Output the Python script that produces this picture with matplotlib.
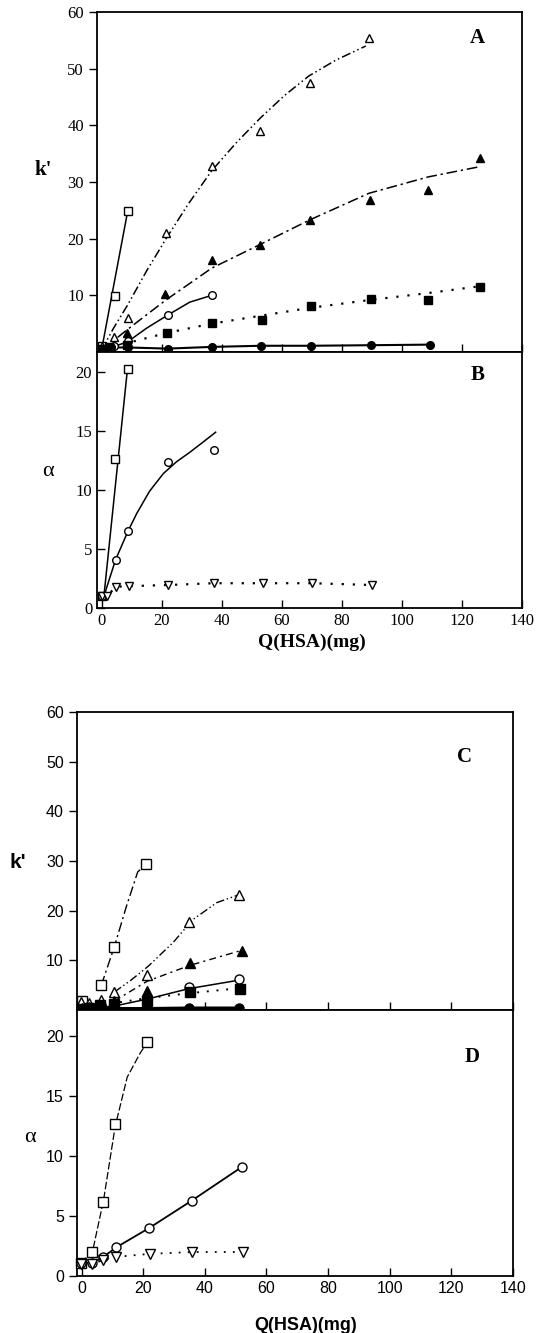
import numpy as np
import matplotlib.pyplot as plt

# ---------------- Panel A : k' ----------------
a_osq_x = [0, 4.4, 8.7]
a_osq_y = [1.0, 9.8, 24.8]
a_osq_fx = [0, 8.7]
a_osq_fy = [0.3, 24.8]

a_otri_x = [0, 4, 8.7, 21.5, 36.7, 52.9, 69.3, 89]
a_otri_y = [1.0, 2.7, 6.0, 21.0, 32.8, 39.0, 47.4, 55.4]
a_otri_fx = [0, 4, 8.7, 15, 21.5, 29, 36.7, 45, 52.9, 61, 69, 78, 88]
a_otri_fy = [0.3, 4.2, 8.3, 14.3, 20.0, 26.2, 32.0, 37.0, 41.3, 45.3, 48.7, 51.5, 54.0]

a_ftri_x = [0, 3, 8.5, 21.3, 36.7, 52.9, 69.3, 89.3, 108.8, 125.9]
a_ftri_y = [0.5, 0.9, 3.3, 10.2, 16.2, 18.9, 23.3, 26.9, 28.5, 34.2]
a_ftri_fx = [0, 8.7, 21.5, 36.7, 52.9, 69.3, 89, 108.8, 125.9]
a_ftri_fy = [0.3, 4.0, 9.2, 14.8, 19.0, 23.3, 28.0, 30.9, 32.7]

a_ocir_x = [0, 4, 8.7, 22, 36.7]
a_ocir_y = [0.5, 1.0, 2.0, 6.6, 10.1]
a_ocir_fx = [0, 8.7, 15, 22, 29.4, 36.7]
a_ocir_fy = [0.2, 1.8, 4.2, 6.5, 8.8, 10.0]

a_fsq_x = [0, 2.5, 8.5, 21.9, 36.7, 53.3, 69.6, 89.6, 108.8, 125.9]
a_fsq_y = [0.5, 0.9, 1.2, 3.3, 5.1, 5.6, 8.1, 9.3, 9.2, 11.5]
a_fsq_fx = [0, 8.7, 22, 36.7, 53, 69.6, 89.6, 108.8, 125.9]
a_fsq_fy = [0.3, 1.6, 3.4, 5.0, 6.4, 7.8, 9.2, 10.4, 11.6]

a_fcir_x = [0, 3, 8.7, 22, 36.7, 53.1, 69.6, 89.7, 109.4]
a_fcir_y = [0.3, 0.8, 0.8, 0.6, 0.9, 1.1, 1.1, 1.2, 1.3]

# ---------------- Panel B : alpha ----------------
b_osq_x = [0, 4.4, 8.7]
b_osq_y = [1.0, 12.6, 20.3]
b_osq_fx = [0.8, 8.7]
b_osq_fy = [1.0, 20.4]

b_ocir_x = [0, 4.7, 8.8, 22, 37.3]
b_ocir_y = [1.0, 4.1, 6.5, 12.4, 13.4]
b_ocir_fx = [0.8, 4.7, 8.8, 11.7, 16, 20.6, 25, 29.4, 34, 38]
b_ocir_fy = [1.0, 4.1, 6.5, 8.0, 9.9, 11.4, 12.4, 13.2, 14.1, 14.9]

b_dtri_x = [0, 1.9, 4.7, 9, 22.2, 37.3, 53.8, 70.2, 89.9]
b_dtri_y = [1.0, 1.0, 1.8, 1.85, 1.95, 2.1, 2.1, 2.1, 1.95]

# ---------------- Panel C : k' ----------------
c_osq_x = [0, 6.4, 10.6, 21]
c_osq_y = [1.8, 5.0, 12.6, 29.4]
c_osq_fx = [6.4, 10.6, 14.5, 18.2, 21]
c_osq_fy = [5.0, 12.7, 20.8, 27.8, 29.4]

c_otri_x = [-0.3, 2.3, 6.4, 10.6, 21.3, 34.8, 51]
c_otri_y = [1.6, 1.4, 2.0, 3.6, 7.0, 17.8, 23.2]
c_otri_fx = [10.6, 16, 21.6, 29.7, 36.1, 43.8, 51]
c_otri_fy = [3.6, 6.0, 8.8, 13.6, 18.2, 21.6, 23.2]

c_ftri_x = [0, 2.3, 6.4, 10.6, 21.3, 35.2, 51.9]
c_ftri_y = [0.5, 0.6, 1.0, 1.8, 3.8, 9.4, 11.8]
c_ftri_fx = [10.6, 21.3, 35.2, 51.9]
c_ftri_fy = [1.8, 5.8, 9.0, 12.0]

c_ocir_x = [0, 2.3, 6.4, 10.6, 21.3, 34.8, 51]
c_ocir_y = [0.3, 0.4, 0.6, 1.0, 2.0, 4.6, 6.2]
c_ocir_fx = [0, 10.6, 21.3, 34.8, 51]
c_ocir_fy = [0.2, 0.8, 2.2, 4.3, 6.0]

c_fsq_x = [0, 2.3, 6.1, 10.6, 21.3, 35.2, 51.5]
c_fsq_y = [0.3, 0.5, 1.0, 1.2, 1.8, 3.6, 4.2]
c_fsq_fx = [0, 10.6, 21.3, 35.2, 51.5]
c_fsq_fy = [0.3, 1.4, 2.4, 3.4, 4.4]

c_fcir_x = [0, 2.3, 6.4, 10.6, 21.3, 34.8, 51]
c_fcir_y = [0.3, 0.3, 0.3, 0.3, 0.3, 0.4, 0.4]

# ---------------- Panel D : alpha ----------------
d_osq_x = [-0.3, 3.5, 7.1, 10.9, 21.3]
d_osq_y = [1.1, 2.0, 6.2, 12.7, 19.5]
d_osq_fx = [-0.3, 3.5, 7.1, 10.9, 14.8, 19, 21.3]
d_osq_fy = [1.1, 2.0, 6.3, 12.5, 16.6, 18.6, 19.5]

d_ocir_x = [-0.3, 3.5, 7.1, 11.3, 21.9, 35.8, 52]
d_ocir_y = [1.1, 1.1, 1.6, 2.4, 4.0, 6.3, 9.1]

d_dtri_x = [-0.3, 3.5, 7.1, 11.3, 22.3, 35.8, 52.3]
d_dtri_y = [1.0, 1.0, 1.35, 1.6, 1.85, 2.0, 2.0]

xticks = [0, 20, 40, 60, 80, 100, 120, 140]

# line styles
DDOT = (0, (6, 2, 1, 2, 1, 2))
DASHDOT = (0, (7, 2.5, 1.5, 2.5))
DOT = (0, (1, 4))
SERIF = 'Liberation Serif'
SANS = 'Liberation Sans'


def pts(ax, x, y, marker, filled, ms=5.5):
    ax.plot(x, y, linestyle='none', marker=marker, ms=ms,
            mfc='black' if filled else 'white', mec='black', mew=1.0,
            zorder=4, clip_on=False)


def line(ax, x, y, ls, lw=1.1):
    ax.plot(x, y, color='black', linestyle=ls, lw=lw, zorder=3)


fig = plt.figure(figsize=(5.4, 13.33), dpi=100)
W, H = 540, 1333


def axes_px(l, t, r, b):
    return fig.add_axes([l / W, 1 - b / H, (r - l) / W, (b - t) / H])


axA = axes_px(97, 12, 522, 352)
axB = axes_px(97, 352, 522, 608)
axC = axes_px(77, 712, 513, 1010)
axD = axes_px(77, 1010, 513, 1276)

for ax in (axA, axB, axC, axD):
    ax.set_xlim(-1.5, 140)
    ax.set_xticks(xticks)
    for s in ax.spines.values():
        s.set_linewidth(1.3)
    ax.tick_params(axis='x', direction='in', length=6, width=1.0)
    ax.tick_params(axis='y', length=6, width=1.0)

# ---- A ----
axA.set_ylim(0, 60)
axA.set_yticks([10, 20, 30, 40, 50, 60])
axA.tick_params(axis='y', direction='out')
axA.set_xticklabels([])
line(axA, a_osq_fx, a_osq_fy, '-')
line(axA, a_otri_fx, a_otri_fy, DDOT)
line(axA, a_ftri_fx, a_ftri_fy, DASHDOT)
line(axA, a_ocir_fx, a_ocir_fy, '-')
line(axA, a_fsq_fx, a_fsq_fy, DOT, lw=1.6)
line(axA, a_fcir_x, a_fcir_y, '-', lw=1.5)
pts(axA, a_osq_x, a_osq_y, 's', False)
pts(axA, a_otri_x, a_otri_y, '^', False)
pts(axA, a_ftri_x, a_ftri_y, '^', True)
pts(axA, a_ocir_x, a_ocir_y, 'o', False)
pts(axA, a_fsq_x, a_fsq_y, 's', True)
pts(axA, a_fcir_x, a_fcir_y, 'o', True)

# ---- B ----
axB.set_ylim(0, 21.7)
axB.set_yticks([0, 5, 10, 15, 20])
axB.tick_params(axis='y', direction='in')
line(axB, b_osq_fx, b_osq_fy, '-')
line(axB, b_ocir_fx, b_ocir_fy, '-')
line(axB, b_dtri_x, b_dtri_y, DOT, lw=1.6)
pts(axB, b_osq_x, b_osq_y, 's', False)
pts(axB, b_ocir_x, b_ocir_y, 'o', False)
pts(axB, b_dtri_x, b_dtri_y, 'v', False)

for ax in (axA, axB):
    for lab in ax.get_xticklabels() + ax.get_yticklabels():
        lab.set_family(SERIF)
        lab.set_fontsize(12)

fig.text(43 / W, 1 - 170 / H, "k'", family=SERIF, fontweight='bold',
         fontsize=15, ha='center', va='center')
fig.text(48 / W, 1 - 472 / H, 'α', family=SERIF, fontsize=16,
         ha='center', va='center')
fig.text(477 / W, 1 - 38 / H, 'A', family=SERIF, fontweight='bold',
         fontsize=15, ha='center', va='center')
fig.text(478 / W, 1 - 375 / H, 'B', family=SERIF, fontweight='bold',
         fontsize=15, ha='center', va='center')
fig.text(312 / W, 1 - 642 / H, 'Q(HSA)(mg)', family=SERIF, fontweight='bold',
         fontsize=14, ha='center', va='center')

# ---- C ----
axC.set_ylim(0, 60)
axC.set_yticks([10, 20, 30, 40, 50, 60])
axC.tick_params(axis='y', direction='out')
axC.set_xticklabels([])
line(axC, c_osq_fx, c_osq_fy, DASHDOT, lw=1.0)
line(axC, c_otri_fx, c_otri_fy, DDOT, lw=1.0)
line(axC, c_ftri_fx, c_ftri_fy, (0, (5, 3, 1.5, 3)), lw=1.0)
line(axC, c_ocir_fx, c_ocir_fy, '-')
line(axC, c_fsq_fx, c_fsq_fy, DOT, lw=1.4)
line(axC, c_fcir_x, c_fcir_y, '-', lw=2.2)
pts(axC, c_osq_x, c_osq_y, 's', False, ms=6.5)
pts(axC, c_otri_x, c_otri_y, '^', False, ms=6.5)
pts(axC, c_ftri_x, c_ftri_y, '^', True, ms=6.5)
pts(axC, c_ocir_x, c_ocir_y, 'o', False, ms=6.5)
pts(axC, c_fsq_x, c_fsq_y, 's', True, ms=6.5)
pts(axC, c_fcir_x, c_fcir_y, 'o', True, ms=6.5)

# ---- D ----
axD.set_ylim(0, 22.2)
axD.set_yticks([0, 5, 10, 15, 20])
axD.tick_params(axis='y', direction='out')
line(axD, d_osq_fx, d_osq_fy, (0, (6, 2)), lw=0.9)
line(axD, d_ocir_x, d_ocir_y, '-', lw=1.3)
line(axD, d_dtri_x, d_dtri_y, DOT, lw=1.3)
pts(axD, d_osq_x, d_osq_y, 's', False, ms=6.5)
pts(axD, d_ocir_x, d_ocir_y, 'o', False, ms=6.5)
pts(axD, d_dtri_x, d_dtri_y, 'v', False, ms=6.5)

for ax in (axC, axD):
    for lab in ax.get_xticklabels() + ax.get_yticklabels():
        lab.set_family(SANS)
        lab.set_fontsize(11.5)

fig.text(18 / W, 1 - 862 / H, "k'", family=SANS, fontweight='bold',
         fontsize=15, ha='center', va='center')
fig.text(30 / W, 1 - 1137 / H, 'α', family=SERIF, fontsize=16,
         ha='center', va='center')
fig.text(465 / W, 1 - 757 / H, 'C', family=SERIF, fontweight='bold',
         fontsize=15, ha='center', va='center')
fig.text(472 / W, 1 - 1057 / H, 'D', family=SERIF, fontweight='bold',
         fontsize=15, ha='center', va='center')
fig.text(306 / W, 1 - 1325 / H, 'Q(HSA)(mg)', family=SANS, fontweight='bold',
         fontsize=13, ha='center', va='center')

fig.savefig('out.png', dpi=100)
